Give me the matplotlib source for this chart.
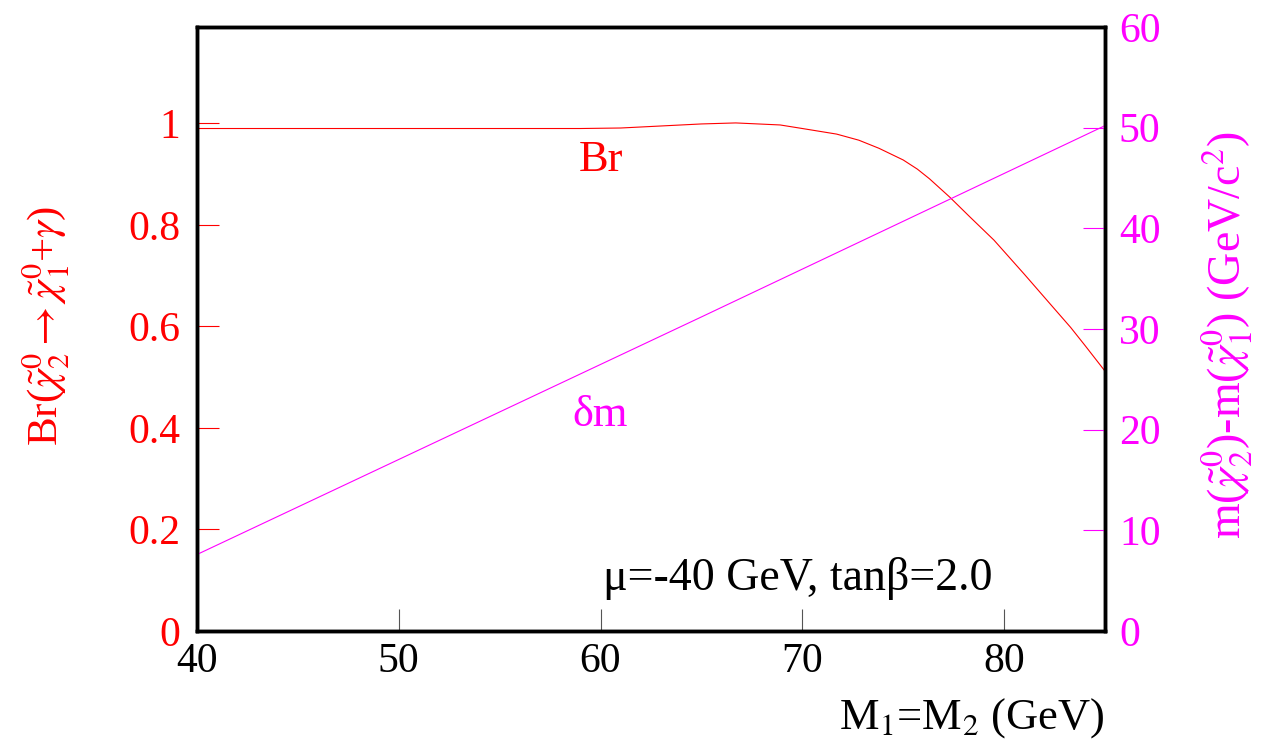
import matplotlib
matplotlib.use("Agg")
import matplotlib.pyplot as plt

plt.rcParams["font.family"] = ["Liberation Serif", "DejaVu Serif"]
plt.rcParams["mathtext.fontset"] = "stix"

RED = "#ff0000"
MAGENTA = "#ff00ff"

# Br(chi2 -> chi1 + gamma) vs M1=M2
br_x = [40, 45, 50, 55, 59, 61, 63, 65, 66.7, 68.9, 70, 71.7, 72.8, 73.8,
        75.0, 75.7, 76.3, 77.3, 78.3, 79.5, 81, 82.4, 83.3, 84, 85]
br_y = [0.990, 0.990, 0.990, 0.990, 0.990, 0.991, 0.995, 0.999, 1.001, 0.997,
        0.990, 0.979, 0.967, 0.951, 0.928, 0.910, 0.891, 0.855, 0.816, 0.770,
        0.703, 0.639, 0.598, 0.563, 0.512]

# mass splitting delta m (GeV/c^2)
dm_x = [40, 65, 85]
dm_y = [7.6, 31.2, 50.2]

left_ticks = [0, 0.2, 0.4, 0.6, 0.8, 1.0]
left_labels = ["0", "0.2", "0.4", "0.6", "0.8", "1"]
right_ticks = [0, 10, 20, 30, 40, 50, 60]
x_ticks = [40, 50, 60, 70, 80]

fig = plt.figure(figsize=(12.7, 7.53), dpi=100)
ax = fig.add_axes([197 / 1270, 1 - 631 / 753, (1105 - 197) / 1270, (631 - 27) / 753])

ax.plot(br_x, br_y, color=RED, lw=0.8)
ax.set_xlim(40, 85)
ax.set_ylim(0, 1.19)
ax.set_xticks(x_ticks)
ax.set_yticks(left_ticks)
ax.set_yticklabels(left_labels)
ax.tick_params(axis="x", direction="in", length=16, width=0.8, color="#555555",
               labelsize=30, pad=8, top=False)
ax.tick_params(axis="y", direction="in", length=16, width=0.8, color=RED,
               labelcolor=RED, labelsize=30, pad=12)
for s in ax.spines.values():
    s.set_linewidth(2.5)

ax.set_ylabel(r"Br($\tilde{\chi}_2^0$$\rightarrow$$\tilde{\chi}_1^0$+$\gamma$)",
              color=RED, fontsize=31)
ax.yaxis.set_label_coords(-0.138, 0.505)
ax.set_xlabel(r"M$_1$=M$_2$ (GeV)", fontsize=32, ha="right")
ax.xaxis.set_label_coords(1.0, -0.108)

ax2 = ax.twinx()
ax2.plot(dm_x, dm_y, color=MAGENTA, lw=0.8)
ax2.set_ylim(0, 60)
ax2.set_yticks(right_ticks)
ax2.tick_params(axis="y", direction="in", length=16, width=0.8, color=MAGENTA,
                labelcolor=MAGENTA, labelsize=30, pad=10)
for s in ax2.spines.values():
    s.set_linewidth(2.5)
ax2.set_ylabel(r"m($\tilde{\chi}_2^0$)-m($\tilde{\chi}_1^0$) (GeV/c$^2$)",
               color=MAGENTA, fontsize=33)
ax2.yaxis.set_label_coords(1.105, 0.49)

ax.text(60, 0.928, "Br", color=RED, fontsize=32, ha="center", va="center")
ax.text(60, 0.426, "δm", color=MAGENTA, fontsize=32, ha="center", va="center")
ax.text(60.1, 0.104, "μ=-40 GeV, tanβ=2.0", color="black", fontsize=33,
        ha="left", va="center")

fig.savefig("out.png", dpi=100)
